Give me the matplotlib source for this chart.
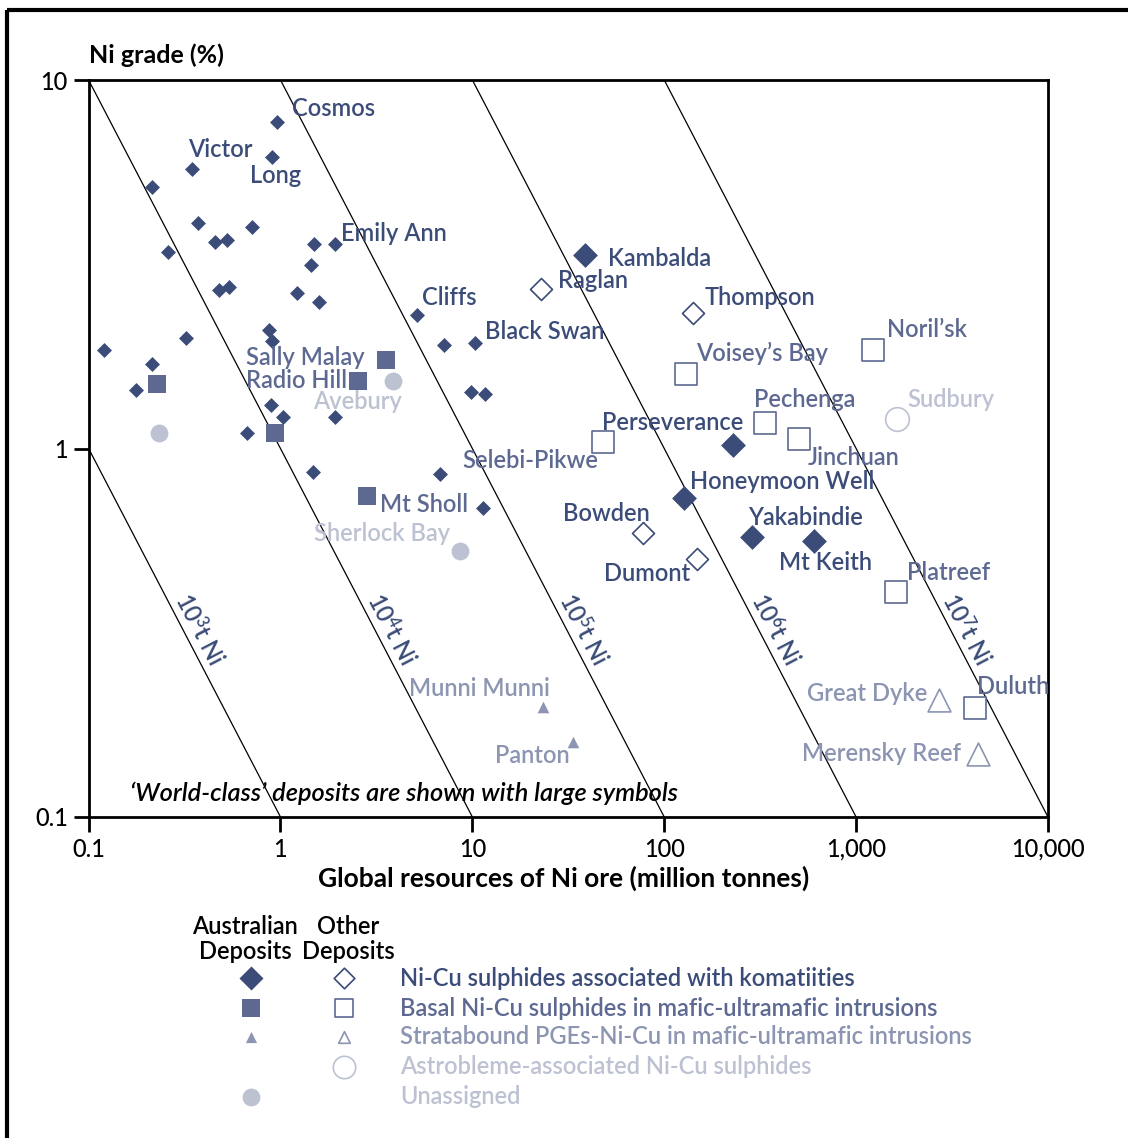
import numpy as np
import matplotlib
matplotlib.use("Agg")
import matplotlib.pyplot as plt
from matplotlib.patches import Rectangle

plt.rcParams['font.family'] = ['Lato', 'DejaVu Sans']
plt.rcParams['mathtext.fontset'] = 'custom'
plt.rcParams['mathtext.rm'] = 'Lato:semibold'
plt.rcParams['mathtext.it'] = 'Lato:italic'
plt.rcParams['mathtext.bf'] = 'Lato:bold'

# === Data (ore in million tonnes, Ni grade in %) ===
# Australian, Ni-Cu sulphides with komatiites (small symbols)
aus_kom_names = ["Cosmos", "Long", "Victor", "", "", "", "", "", "", "",
                 "Emily Ann", "", "", "", "", "", "Cliffs", "", "Black Swan", "",
                 "", "", "", "", "", "", "", "", "", "",
                 "", "", "", ""]
aus_kom_ore = [0.957, 0.908, 0.345, 0.2135, 0.3725, 0.709, 0.458, 0.525, 0.259, 1.50,
               1.914, 1.437, 0.480, 0.5365, 1.22, 1.585, 5.13, 7.08, 10.3, 0.867,
               0.904, 0.323, 0.121, 0.2135, 0.176, 9.80, 11.7, 0.897, 1.03, 1.914,
               0.670, 1.48, 6.81, 11.3]
aus_kom_grade = [7.70, 6.19, 5.73, 5.11, 4.08, 3.98, 3.64, 3.69, 3.42, 3.59,
                 3.60, 3.15, 2.69, 2.75, 2.65, 2.50, 2.30, 1.91, 1.93, 2.10,
                 1.96, 2.00, 1.85, 1.70, 1.44, 1.42, 1.41, 1.31, 1.22, 1.22,
                 1.10, 0.864, 0.855, 0.691]

# Australian, komatiite, world-class (large symbols)
aus_kom_wc_names = ["Kambalda", "Perseverance", "Honeymoon Well", "Yakabindie", "Mt Keith"]
aus_kom_wc_ore = [38.8, 228.6, 126.5, 286.4, 600.0]
aus_kom_wc_grade = [3.35, 1.02, 0.732, 0.575, 0.561]

# Other deposits, komatiite
oth_kom_names = ["Raglan", "Thompson", "Bowden", "Dumont"]
oth_kom_ore = [22.8, 141.6, 77.1, 148.0]
oth_kom_grade = [2.71, 2.33, 0.591, 0.50]

# Australian, basal Ni-Cu sulphides
aus_bas_names = ["", "Sally Malay", "Radio Hill", "", "Mt Sholl"]
aus_bas_ore = [0.2275, 3.53, 2.53, 0.936, 2.83]
aus_bas_grade = [1.50, 1.74, 1.52, 1.10, 0.742]

# Other deposits, basal Ni-Cu sulphides
oth_bas_names = ["Noril\u2019sk", "Voisey\u2019s Bay", "Pechenga", "Jinchuan",
                 "Selebi-Pikwe", "Platreef", "Duluth"]
oth_bas_ore = [1229, 129.9, 333.6, 504, 47.8, 1616, 4156]
oth_bas_grade = [1.85, 1.59, 1.17, 1.06, 1.04, 0.408, 0.198]

# Stratabound PGEs-Ni-Cu
aus_str_names = ["Munni Munni", "Panton"]
aus_str_ore = [23.3, 33.3]
aus_str_grade = [0.199, 0.160]
oth_str_names = ["Great Dyke", "Merensky Reef"]
oth_str_ore = [2688, 4338]
oth_str_grade = [0.208, 0.1485]

# Astrobleme
ast_names = ["Sudbury"]
ast_ore = [1632]
ast_grade = [1.20]

# Unassigned
una_names = ["", "Avebury", "Sherlock Bay"]
una_ore = [0.2325, 3.85, 8.58]
una_grade = [1.105, 1.52, 0.526]

# iso-tonnage lines: ore (Mt) x grade (%) = const  ->  10^3 ... 10^7 t Ni
iso_const = [0.1, 1, 10, 100, 1000]
iso_labels = ["10$^{3}$t Ni", "10$^{4}$t Ni", "10$^{5}$t Ni", "10$^{6}$t Ni", "10$^{7}$t Ni"]

x_ticks = [0.1, 1, 10, 100, 1000, 10000]
x_ticklabels = ["0.1", "1", "10", "100", "1,000", "10,000"]
y_ticks = [0.1, 1, 10]
y_ticklabels = ["0.1", "1", "10"]

# === Styles ===
NAVY = "#3b4c78"
SLATE = "#5d6991"
GREYBLUE = "#8c95b1"
PALE = "#bcc2d2"
FS = 17
WT = "semibold"

# label offsets in pixels (dx, dy, ha)
offsets = {
    "Cosmos": (15, 13, "left"), "Victor": (-4, 20, "left"), "Long": (-22, -19, "left"),
    "Emily Ann": (6, 10, "left"), "Cliffs": (5, 18, "left"), "Black Swan": (10, 12, "left"),
    "Sally Malay": (-21, 2, "right"), "Radio Hill": (-11, 1, "right"),
    "Avebury": (9, -20, "right"), "Mt Sholl": (13, -8, "left"),
    "Sherlock Bay": (-9, 18, "right"), "Selebi-Pikwe": (-4, -18, "right"),
    "Kambalda": (23, -3, "left"), "Raglan": (17, 8, "left"), "Thompson": (11, 16, "left"),
    "Voisey\u2019s Bay": (10, 21, "left"), "Noril\u2019sk": (14, 21, "left"),
    "Pechenga": (-11, 24, "left"), "Sudbury": (10, 20, "left"),
    "Perseverance": (10, 23, "right"), "Jinchuan": (9, -18, "left"),
    "Honeymoon Well": (6, 17, "left"), "Bowden": (7, 19, "right"),
    "Yakabindie": (-4, 20, "left"), "Mt Keith": (-35, -21, "left"),
    "Dumont": (-7, -14, "right"), "Platreef": (11, 19, "left"),
    "Munni Munni": (7, 18, "right"), "Panton": (-3, -14, "right"),
    "Great Dyke": (-11, 6, "right"), "Duluth": (2, 21, "left"),
    "Merensky Reef": (-17, 0, "right"),
}

W, H = 1128, 1138
fig = plt.figure(figsize=(W / 100, H / 100), dpi=100)
fig.patch.set_facecolor("white")

ax = fig.add_axes([88.6 / W, 1 - 817 / H, 959.4 / W, 737 / H])
ax.set_xscale("log")
ax.set_yscale("log")
ax.set_xlim(0.1, 10000)
ax.set_ylim(0.1, 10)

# iso-tonnage lines
xs = np.logspace(-1, 4, 400)
p0 = ax.transData.transform((1, 1))
p1 = ax.transData.transform((10, 0.1))
ang = np.degrees(np.arctan2(p1[1] - p0[1], p1[0] - p0[0]))
for c, lab in zip(iso_const, iso_labels):
    ax.plot(xs, c / xs, color="black", lw=0.9, zorder=1)
    ax.text(c / 0.324 * 1.23, 0.324, lab, rotation=ang, rotation_mode="anchor",
            ha="center", va="center", color=NAVY, fontsize=FS, fontweight=WT, zorder=2)


def draw(ore, grade, names, marker, s, face, edge, tcolor, lw=0.0):
    ax.scatter(ore, grade, s=s, marker=marker, c=face, edgecolors=edge,
               linewidths=lw, zorder=4)
    for x, y, n in zip(ore, grade, names):
        if n:
            dx, dy, ha = offsets[n]
            ax.annotate(n, (x, y), xytext=(dx, dy), textcoords="offset pixels",
                        ha=ha, va="center", color=tcolor, fontsize=FS,
                        fontweight=WT, zorder=5)


draw(aus_kom_ore, aus_kom_grade, aus_kom_names, "D", 58, NAVY, NAVY, NAVY)
draw(aus_kom_wc_ore, aus_kom_wc_grade, aus_kom_wc_names, "D", 160, NAVY, NAVY, NAVY)
draw(oth_kom_ore, oth_kom_grade, oth_kom_names, "D", 125, "white", NAVY, NAVY, 1.2)
draw(aus_bas_ore, aus_bas_grade, aus_bas_names, "s", 160, SLATE, SLATE, SLATE)
draw(oth_bas_ore, oth_bas_grade, oth_bas_names, "s", 270, "white", SLATE, SLATE, 1.2)
draw(aus_str_ore, aus_str_grade, aus_str_names, "^", 70, GREYBLUE, GREYBLUE, GREYBLUE)
draw(oth_str_ore, oth_str_grade, oth_str_names, "^", 270, "white", GREYBLUE, GREYBLUE, 1.2)
draw(ast_ore, ast_grade, ast_names, "o", 290, "white", PALE, PALE, 1.2)
draw(una_ore, una_grade, una_names, "o", 165, PALE, PALE, PALE)

# axes look
for sp in ax.spines.values():
    sp.set_linewidth(2)
ax.set_xticks(x_ticks)
ax.set_xticklabels(x_ticklabels)
ax.set_yticks(y_ticks)
ax.set_yticklabels(y_ticklabels)
ax.minorticks_off()
ax.tick_params(axis="both", direction="out", length=11, width=2, labelsize=FS, pad=4)
for t in ax.get_xticklabels() + ax.get_yticklabels():
    t.set_fontweight("medium")
ax.set_xlabel("Global resources of Ni ore (million tonnes)", fontsize=19,
              fontweight="bold")
ax.xaxis.set_label_coords(0.4955, -0.066)
ax.text(0, 1.034, "Ni grade (%)", transform=ax.transAxes, ha="left", va="center",
        fontsize=18, fontweight="bold")
ax.text(0.043, 0.0326, "\u2018World-class\u2019 deposits are shown with large symbols",
        transform=ax.transAxes, ha="left", va="center", fontsize=18.3,
        style="italic", fontweight="semibold")

# === Legend (pixel space) ===
lg = fig.add_axes([0, 0, 1, 1], zorder=3)
lg.set_xlim(0, W)
lg.set_ylim(H, 0)
lg.axis("off")
lg.patch.set_visible(False)
lg.add_patch(Rectangle((7, 10), W, H, fill=False, lw=3, ec="black"))

lg.text(245, 939, "Australian\nDeposits", ha="center", va="center", fontsize=FS,
        fontweight=WT, linespacing=1.1)
lg.text(348, 939, "Other\nDeposits", ha="center", va="center", fontsize=FS,
        fontweight=WT, linespacing=1.1)

legend_rows = [
    ("D", "D", NAVY, "Ni-Cu sulphides associated with komatiities", 150, 110),
    ("s", "s", SLATE, "Basal Ni-Cu sulphides in mafic-ultramafic intrusions", 160, 150),
    ("^", "^", GREYBLUE, "Stratabound PGEs-Ni-Cu in mafic-ultramafic intrusions", 65, 70),
    (None, "o", PALE, "Astrobleme-associated Ni-Cu sulphides", 0, 260),
    ("o", None, PALE, "Unassigned", 165, 0),
]
row_y = [978, 1008, 1037, 1067, 1097]
for (m_aus, m_oth, col, txt, s_aus, s_oth), yy in zip(legend_rows, row_y):
    if m_aus:
        lg.scatter([251], [yy], marker=m_aus, s=s_aus, c=col, edgecolors=col, lw=0)
    if m_oth:
        lg.scatter([344], [yy], marker=m_oth, s=s_oth, c="white", edgecolors=col, lw=1.2)
    lg.text(400, yy, txt, ha="left", va="center", color=col, fontsize=FS,
            fontweight=WT)

fig.savefig("out.png", dpi=100)
